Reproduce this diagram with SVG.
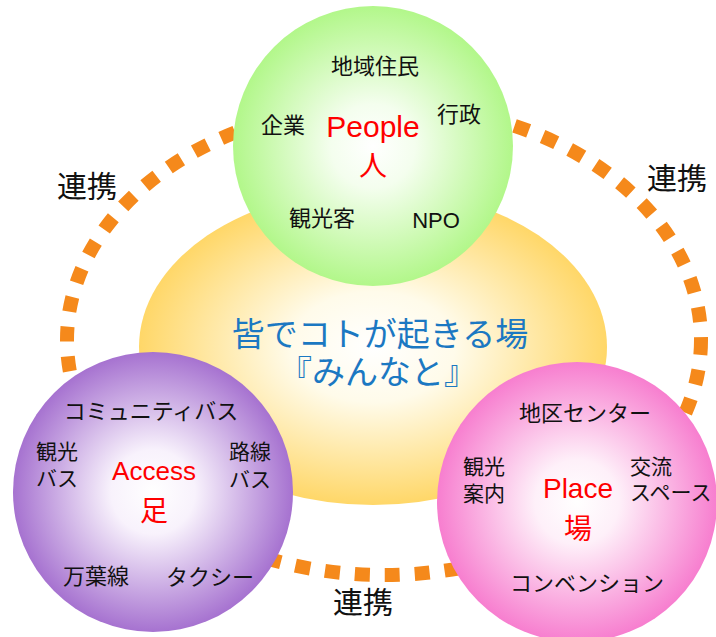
<svg xmlns="http://www.w3.org/2000/svg" width="716" height="637" viewBox="0 0 716 637">
  <defs>
    <radialGradient id="gYellow" cx="0.5" cy="0.5" r="0.5">
      <stop offset="0" stop-color="#FFFFFF"/>
      <stop offset="0.35" stop-color="#FFFBEA"/>
      <stop offset="1" stop-color="#FFD768"/>
    </radialGradient>
    <radialGradient id="gGreen" cx="0.5" cy="0.5" r="0.5">
      <stop offset="0" stop-color="#FFFFFF"/>
      <stop offset="0.3" stop-color="#F4FEEE"/>
      <stop offset="1" stop-color="#B2F78A"/>
    </radialGradient>
    <radialGradient id="gPurple" cx="0.5" cy="0.5" r="0.5">
      <stop offset="0" stop-color="#FFFFFF"/>
      <stop offset="0.3" stop-color="#F8F2FC"/>
      <stop offset="1" stop-color="#A672D0"/>
    </radialGradient>
    <radialGradient id="gPink" cx="0.5" cy="0.5" r="0.5">
      <stop offset="0" stop-color="#FFFFFF"/>
      <stop offset="0.3" stop-color="#FEF0F9"/>
      <stop offset="1" stop-color="#F77ECF"/>
    </radialGradient>
    <style>
      .lbl { font-family: "Noto Sans CJK JP", "Liberation Sans", sans-serif; font-size: 22px; fill: #111; text-anchor: middle; }
      .two { font-size: 21px; }
      .latin { font-family: "Liberation Sans", "Noto Sans CJK JP", sans-serif; }
      .key { font-family: "Liberation Sans", "Noto Sans CJK JP", sans-serif; fill: #FF0000; text-anchor: middle; }
      .keyj { font-family: "Noto Sans CJK JP", sans-serif; fill: #FF0000; text-anchor: middle; font-size: 28px; }
      .link { font-family: "Noto Sans CJK JP", sans-serif; font-size: 30px; fill: #111; text-anchor: middle; }
      .center { font-family: "Noto Sans CJK JP", sans-serif; font-size: 33px; fill: #1B78C2; text-anchor: middle; }
      .dash { fill: none; stroke: #F5891B; stroke-width: 14; stroke-dasharray: 15 15; }
    </style>
  </defs>
  <rect width="716" height="637" fill="#FFFFFF"/>

  <g id="connectors">
    <ellipse class="dash" cx="384" cy="340" rx="317" ry="235"/>
  </g>

  <g id="link-labels">
    <text class="link" x="87" y="197">連携</text>
    <text class="link" x="677" y="189">連携</text>
    <text class="link" x="363" y="613">連携</text>
  </g>

  <g id="node-center">
    <ellipse cx="373" cy="347" rx="234" ry="158" fill="url(#gYellow)"/>
    <text class="center" x="380" y="346">皆でコトが起きる場</text>
    <text class="center" x="378" y="384">『みんなと』</text>
  </g>

  <g id="node-people">
    <circle cx="373" cy="146" r="140" fill="url(#gGreen)"/>
    <text class="lbl" x="375" y="74">地域住民</text>
    <text class="lbl" x="283" y="133">企業</text>
    <text class="lbl" x="459" y="122">行政</text>
    <text class="key" x="373" y="137" font-size="30">People</text>
    <text class="keyj" x="373" y="176">人</text>
    <text class="lbl" x="322" y="226">観光客</text>
    <text class="lbl latin" x="436" y="228" font-size="23">NPO</text>
  </g>

  <g id="node-access">
    <circle cx="153" cy="492" r="140" fill="url(#gPurple)"/>
    <text class="lbl" x="151" y="419" font-size="20">コミュニティバス</text>
    <text class="lbl two" x="57" y="459">観光</text>
    <text class="lbl two" x="57" y="486">バス</text>
    <text class="lbl two" x="250" y="459">路線</text>
    <text class="lbl two" x="250" y="487">バス</text>
    <text class="key" x="154" y="480" font-size="26">Access</text>
    <text class="keyj" x="154" y="521">足</text>
    <text class="lbl" x="96" y="584">万葉線</text>
    <text class="lbl" x="210" y="585" font-size="21">タクシー</text>
  </g>

  <g id="node-place">
    <circle cx="577" cy="502" r="140" fill="url(#gPink)"/>
    <text class="lbl" x="585" y="421">地区センター</text>
    <text class="lbl two" x="484" y="474">観光</text>
    <text class="lbl two" x="484" y="501">案内</text>
    <text class="lbl two" x="630" y="474" style="text-anchor:start">交流</text>
    <text class="lbl two" x="630" y="500" style="text-anchor:start">スペース</text>
    <text class="key" x="578" y="498" font-size="28">Place</text>
    <text class="keyj" x="578" y="539">場</text>
    <text class="lbl" x="587" y="591" font-size="20">コンベンション</text>
  </g>
</svg>
